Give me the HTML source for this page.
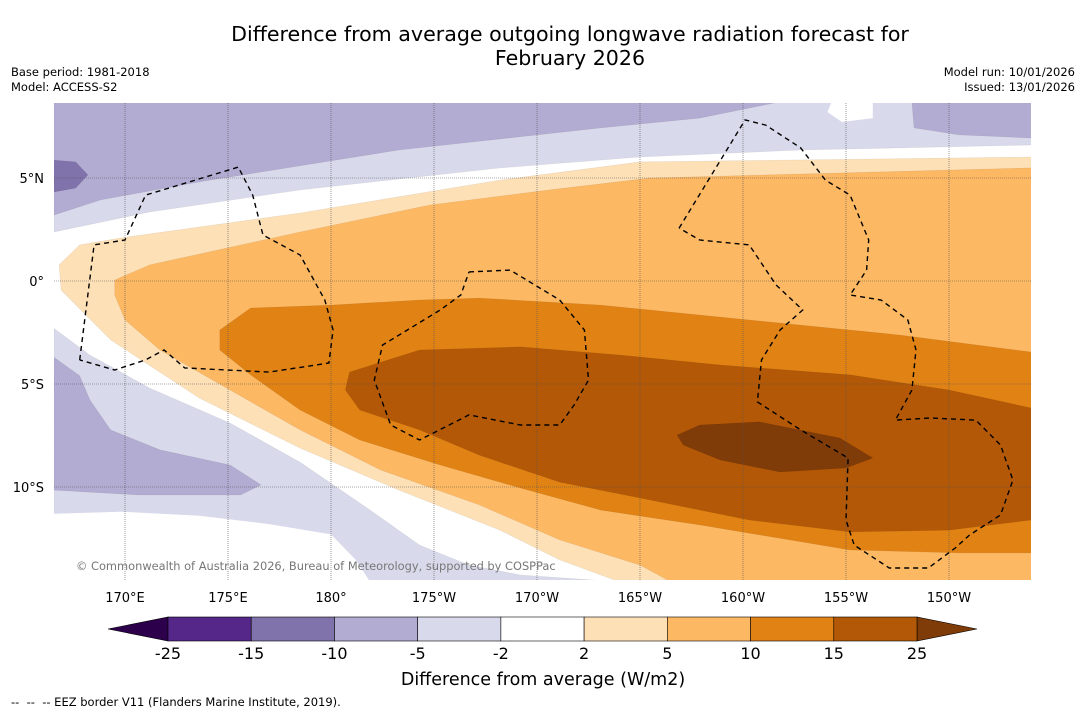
<!DOCTYPE html>
<html><head><meta charset="utf-8">
<style>
body{margin:0;background:#fff;font-family:"DejaVu Sans","Liberation Sans",sans-serif;}
#wrap{position:relative;width:1085px;height:713px;overflow:hidden;background:#fff;}
.t{position:absolute;color:#000;}
</style></head>
<body>
<div id="wrap">
<div class="t" style="left:120px;top:22px;width:900px;text-align:center;font-size:20.6px;line-height:24px;">Difference from average outgoing longwave radiation forecast for<br>February 2026</div>
<div class="t" style="left:11px;top:65px;font-size:11.5px;line-height:15px;">Base period: 1981-2018<br>Model: ACCESS-S2</div>
<div class="t" style="right:10px;top:65px;font-size:11.5px;line-height:15px;text-align:right;">Model run: 10/01/2026<br>Issued: 13/01/2026</div>
<svg id="map" width="1085" height="713" style="position:absolute;left:0;top:0;font-family:'DejaVu Sans','Liberation Sans',sans-serif"></svg>
<div class="t" style="left:11px;top:695px;font-size:11.5px;">-- &nbsp;-- &nbsp;-- EEZ border V11 (Flanders Marine Institute, 2019).</div>
</div>
<script>
const lonTicks=[170,175,180,185,190,195,200,205,210];
const lonLabels=["170°E","175°E","180°","175°W","170°W","165°W","160°W","155°W","150°W"];
const latTicks=[5,0,-5,-10];
const latLabels=["5°N","0°","5°S","10°S"];
const W=166.55,E=214,N=8.7,S=-14.6;
const bands=[
 {name:"band-neg5-upper",c:"#d8daeb",p:[[W,N],[E,N],[E,6.6],[202.8,6.36],[195,6.02],[188.2,5.49],[178.5,4.42],[171.2,3.35],[W,2.38]]},
 {name:"white-patch-top",c:"#ffffff",p:[[204.3,N],[206.3,N],[206.3,7.91],[204.8,7.72],[204.1,8.2]]},
 {name:"band-neg10-upper",c:"#b2abd2",p:[[W,N],[201.8,N],[197.9,7.91],[193.1,7.43],[183.3,6.36],[173.6,4.81],[168.8,3.93],[W,3.2]]},
 {name:"band-neg10-upper-right",c:"#b2abd2",p:[[208.2,N],[E,N],[E,6.94],[210.5,7.09],[208.3,7.43]]},
 {name:"band-neg15-blob",c:"#8073ac",p:[[W,5.87],[167.6,5.78],[168.2,5.15],[167.6,4.51],[W,4.32]]},
 {name:"band-neg5-lower",c:"#d8daeb",p:[[W,-2.3],[168.3,-3.6],[171.2,-5.2],[175.1,-6.9],[178.5,-8.8],[181.9,-11.12],[184.3,-12.82],[186.7,-13.79],[189.2,-14.27],[194,S],[W,S]]},
 {name:"white-lower",c:"#ffffff",p:[[W,-11.3],[169.8,-11.2],[173.6,-11.4],[177,-11.8],[180,-12.3],[181.2,-13.54],[181.9,S],[W,S]]},
 {name:"band-neg10-lower",c:"#b2abd2",p:[[W,-3.7],[167.8,-4.6],[168.3,-5.78],[169.3,-7.23],[171.7,-8.2],[175.1,-8.93],[176.6,-9.9],[175.6,-10.39],[170.7,-10.39],[W,-10.15]]},
 {name:"band-pos2",c:"#fee0b6",p:[[166.8,0.78],[167.8,1.75],[169.8,2.09],[178.5,3.3],[188.2,4.9],[195,5.78],[E,6.02],[E,S],[194,S],[191.1,-13.54],[188.2,-12.09],[183.3,-10.15],[178.5,-8.11],[173.6,-5.68],[169.3,-2.86],[166.9,-0.44]]},
 {name:"band-pos5",c:"#fdb863",p:[[169.5,0.05],[171.2,0.78],[178.5,2.38],[184.8,3.69],[190.6,4.42],[195.5,5],[E,5.49],[E,S],[196.5,S],[195,-13.79],[191.1,-12.57],[187.2,-10.87],[182.4,-9.17],[178.5,-7.23],[175.1,-5.29],[171.7,-3.35],[170,-1.89],[169.5,-0.68]]},
 {name:"band-pos10",c:"#e08214",p:[[174.6,-2.38],[176.1,-1.31],[180,-1.17],[184.3,-0.92],[187.2,-0.83],[193.1,-1.17],[197.9,-1.65],[202.8,-2.14],[207.6,-2.62],[E,-3.45],[E,-13.2],[210.5,-13.2],[205.2,-13.06],[197.9,-11.84],[193.1,-11.12],[189.2,-10.05],[185.3,-8.93],[181.4,-7.72],[178.5,-6.26],[176.1,-4.56],[174.6,-3.35]]},
 {name:"band-pos15",c:"#b35806",p:[[180.9,-4.42],[184.3,-3.35],[189.2,-3.2],[194,-3.59],[198.9,-4.08],[205.2,-4.56],[210,-5.29],[E,-6.17],[E,-11.6],[210,-12.09],[205.2,-12.18],[200.3,-11.6],[195.5,-10.63],[191.1,-9.76],[187.2,-8.45],[184.3,-7.23],[181.4,-6.26],[180.7,-5.29]]},
 {name:"band-pos25",c:"#7f3b08",p:[[196.8,-7.48],[197.9,-6.99],[200.8,-6.84],[204.7,-7.62],[206.3,-8.59],[205,-9.08],[201.8,-9.27],[198.9,-8.69],[197.1,-7.96]]}
];
const eez=[
 [[167.8,-3.83],[168.5,1.75],[170,1.99],[171,4.17],[175.5,5.53],[176.2,4.17],[176.7,2.23],[178.5,1.26],[179.7,-0.92],[180.1,-2.38],[179.9,-3.98],[177,-4.42],[172.9,-4.22],[171.9,-3.35],[171,-3.83],[169.5,-4.32],[167.8,-3.83]],
 [[186.7,0.44],[188.7,0.53],[191.1,-0.92],[192.3,-2.38],[192.5,-4.81],[191.8,-6.02],[191.1,-6.99],[189.2,-6.99],[186.7,-6.5],[184.3,-7.72],[182.9,-6.99],[182.1,-4.81],[182.5,-3.11],[185.3,-1.41],[186.3,-0.68],[186.7,0.44]],
 [[196.9,2.57],[200.1,7.82],[201.1,7.57],[202.8,6.46],[204,4.9],[205.2,4.17],[206.1,1.99],[206,0.53],[205.2,-0.68],[206.7,-0.92],[208,-1.89],[208.4,-3.35],[208.2,-5.29],[207.4,-6.75],[209.1,-6.65],[211.3,-6.75],[212.5,-7.96],[213.1,-9.66],[212.5,-11.36],[211,-12.33],[210.3,-12.96],[209,-13.93],[207.1,-13.93],[205.4,-12.82],[205,-11.6],[205.1,-8.59],[202.8,-7.23],[200.7,-5.87],[200.9,-3.83],[201.8,-2.38],[202.9,-1.41],[201.6,-0.19],[200.3,1.75],[197.9,1.99],[196.9,2.57]]
];
const cbLabels=["-25","-15","-10","-5","-2","2","5","10","15","25"];
const cbColors=["#542788","#8073ac","#b2abd2","#d8daeb","#ffffff","#fee0b6","#fdb863","#e08214","#b35806"];

const X0=54,X1=1031,Y0=103,Y1=580;
const sx=lon=>331+(lon-180)*20.6;
const sy=lat=>281-lat*20.6;
const NS="http://www.w3.org/2000/svg";
const svg=document.getElementById('map');
function mk(tag,attrs,parent){const e=document.createElementNS(NS,tag);for(const k in attrs)e.setAttribute(k,attrs[k]);(parent||svg).appendChild(e);return e;}
const defs=mk('defs',{});
const cp=mk('clipPath',{id:'clip'},defs);mk('rect',{x:X0,y:Y0,width:X1-X0,height:Y1-Y0},cp);
const g=mk('g',{'clip-path':'url(#clip)'});
const bg=mk('rect',{x:X0,y:Y0,width:X1-X0,height:Y1-Y0,fill:'#fff'},g);


bands.forEach(b=>{
 const el=mk('polygon',{points:b.p.map(q=>sx(q[0]).toFixed(1)+','+sy(q[1]).toFixed(1)).join(' '),fill:b.c,stroke:b.c==="#ffffff"?"none":"#000","stroke-opacity":0.08,'stroke-width':0.6},g);
 
 
});
lonTicks.forEach((l,i)=>{
 const ln=mk('line',{x1:sx(l),x2:sx(l),y1:Y0,y2:Y1,stroke:'#555','stroke-width':0.6,'stroke-dasharray':'1,1'},g);
 
 
 const t=mk('text',{x:sx(l),y:602,'text-anchor':'middle','font-size':13});
 t.textContent=lonLabels[i];
 
 
});
latTicks.forEach((l,i)=>{
 const ln=mk('line',{x1:X0,x2:X1,y1:sy(l),y2:sy(l),stroke:'#555','stroke-width':0.6,'stroke-dasharray':'1,1'},g);
 
 
 const t=mk('text',{x:44,y:sy(l)+5,'text-anchor':'end','font-size':13});
 t.textContent=latLabels[i];
 
 
});
eez.forEach(p=>{
 const el=mk('polyline',{points:p.map(q=>sx(q[0]).toFixed(1)+','+sy(q[1]).toFixed(1)).join(' '),fill:'none',stroke:'#000','stroke-width':1.4,'stroke-dasharray':'5,4'},g);
 
 
});
const cr=mk('text',{x:76,y:570,'font-size':11.4,fill:'#777'},g);
cr.textContent="© Commonwealth of Australia 2026, Bureau of Meteorology, supported by COSPPac";


const cbx0=168,cbx1=917,cby=617,cbh=24,seg=(cbx1-cbx0)/cbColors.length;
const lt=mk('polygon',{points:`108,${cby+cbh/2} ${cbx0},${cby} ${cbx0},${cby+cbh}`,fill:'#2d004b',stroke:'#000','stroke-width':0.6});


const rt=mk('polygon',{points:`977,${cby+cbh/2} ${cbx1},${cby} ${cbx1},${cby+cbh}`,fill:'#7f3b08',stroke:'#000','stroke-width':0.6});


cbColors.forEach((c,i)=>{
 const r=mk('rect',{x:cbx0+i*seg,y:cby,width:seg,height:cbh,fill:c,stroke:'#000','stroke-width':0.6});
 
 
});
cbLabels.forEach((l,i)=>{
 const t=mk('text',{x:cbx0+i*seg,y:659,'text-anchor':'middle','font-size':16});
 t.textContent=l;
 
 
});
const ct=mk('text',{x:543,y:685,'text-anchor':'middle','font-size':17.5});
ct.textContent="Difference from average (W/m2)";


</script>
</body></html>
